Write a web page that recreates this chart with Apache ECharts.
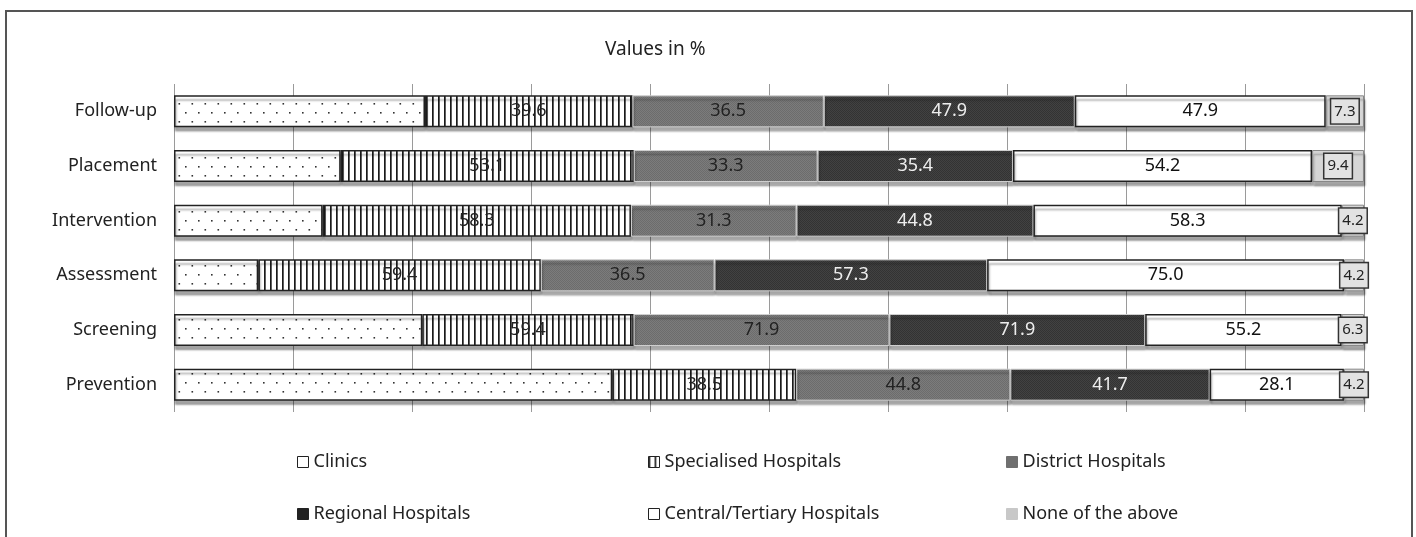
<!DOCTYPE html>
<html>
<head>
<meta charset="utf-8">
<title>Values in %</title>
<script src="https://cdn.jsdelivr.net/npm/echarts@6/dist/echarts.min.js"></script>
<style>
  html, body { margin: 0; padding: 0; background: #fff; }
  #main { width: 1416px; height: 537px; }
</style>
</head>
<body>
<div id="main"></div>
<script>
// 分类 (top to bottom as in the picture)
var categories = ['Follow-up', 'Placement', 'Intervention', 'Assessment', 'Screening', 'Prevention'];

// series values (%), clinics are not labelled in the picture ->
var clinics     = [47.9, 30.2, 28.1, 17.7, 69.8, 91.7];
var specialised = [39.6, 53.1, 58.3, 59.4, 59.4, 38.5];
var district    = [36.5, 33.3, 31.3, 36.5, 71.9, 44.8];
var regional    = [47.9, 35.4, 44.8, 57.3, 71.9, 41.7];
var central     = [47.9, 54.2, 58.3, 75.0, 55.2, 28.1];
var noneAbove   = [7.3, 9.4, 4.2, 4.2, 6.3, 4.2];

var seriesNames = ['Clinics', 'Specialised Hospitals', 'District Hospitals',
                   'Regional Hospitals', 'Central/Tertiary Hospitals', 'None of the above'];
var seriesValues = [clinics, specialised, district, regional, central, noneAbove];

var FONT = '"Noto Sans", "Open Sans", sans-serif';

// row totals -> 100% stacked
var totals = categories.map(function (c, i) {
	var s = 0;
	seriesValues.forEach(function (arr) { s += arr[i]; });
	return s;
});

function toShare(arr) {
	return arr.map(function (v, i) {
		return { value: v / totals[i] * 100, raw: v };
	});
}

// 点状填充
function dotPattern() {
	var c = document.createElement('canvas');
	c.width = 13; c.height = 18;
	var ctx = c.getContext('2d');
	ctx.fillStyle = '#fff';
	ctx.fillRect(0, 0, 13, 18);
	ctx.fillStyle = '#333';
	ctx.fillRect(3, 4, 1.6, 1.6);
	ctx.fillRect(9.5, 13, 1.6, 1.6);
	return c;
}

// 竖线填充
function stripePattern() {
	var c = document.createElement('canvas');
	c.width = 6; c.height = 6;
	var ctx = c.getContext('2d');
	ctx.fillStyle = '#fff';
	ctx.fillRect(0, 0, 6, 6);
	ctx.fillStyle = '#1a1a1a';
	ctx.fillRect(0, 0, 1.7, 6);
	return c;
}

// 颗粒灰色 (2x2 checker, imitates the halftone)
function grainPattern(a, b) {
	var c = document.createElement('canvas');
	c.width = 2; c.height = 2;
	var ctx = c.getContext('2d');
	ctx.fillStyle = a; ctx.fillRect(0, 0, 2, 2);
	ctx.fillStyle = b; ctx.fillRect(0, 0, 1, 1); ctx.fillRect(1, 1, 1, 1);
	return c;
}

var dots = { image: dotPattern(), repeat: 'repeat' };
var stripes = { image: stripePattern(), repeat: 'repeat' };
var districtFill = { image: grainPattern('#7c7c7c', '#6c6c6c'), repeat: 'repeat' };
var regionalFill = { image: grainPattern('#424242', '#333333'), repeat: 'repeat' };

var shadow = {
	shadowColor: 'rgba(0,0,0,0.35)',
	shadowBlur: 2,
	shadowOffsetY: 4,
	shadowOffsetX: 1
};

function itemStyle(color, border, bw) {
	var s = { color: color, borderColor: border, borderWidth: bw };
	for (var k in shadow) s[k] = shadow[k];
	return s;
}

function plainLabel(color) {
	return {
		show: true,
		position: 'inside',
		fontFamily: FONT,
		fontSize: 18,
		color: color,
		formatter: function (p) { return p.data.raw.toFixed(1); }
	};
}

var styles = [
	itemStyle(dots, '#222', 1.5),
	itemStyle(stripes, '#222', 1.5),
	itemStyle(districtFill, '#cfcfcf', 1),
	itemStyle(regionalFill, '#cfcfcf', 1),
	itemStyle('#ffffff', '#222', 1.5),
	itemStyle('#d6d6d6', '#888', 1)
];

var labels = [
	{ show: false },
	plainLabel('#222'),
	plainLabel('#222'),
	plainLabel('#eeeeee'),
	plainLabel('#111'),
	{
		show: true,
		position: 'inside',
		fontFamily: FONT,
		fontSize: 15,
		color: '#222',
		backgroundColor: '#e2e2e2',
		borderColor: '#333',
		borderWidth: 1.5,
		padding: [5, 3, 4, 3],
		formatter: function (p) { return p.data.raw.toFixed(1); }
	}
];

var series = seriesNames.map(function (name, i) {
	return {
		name: name,
		type: 'bar',
		stack: 'total',
		barWidth: 32,
		data: toShare(seriesValues[i]),
		itemStyle: styles[i],
		label: labels[i],
		emphasis: { disabled: true },
		animation: false
	};
});

// 图例图标
var legendIcon = {
	'Clinics': { color: '#fff' },
	'Specialised Hospitals': { color: stripes },
	'District Hospitals': { color: '#6f6f6f', borderColor: '#6f6f6f' },
	'Regional Hospitals': { color: '#222', borderColor: '#222' },
	'Central/Tertiary Hospitals': { color: '#fff' },
	'None of the above': { color: '#c8c8c8', borderColor: '#c8c8c8' }
};

function legendCol(names, left) {
	return {
		orient: 'vertical',
		left: left,
		top: 451,
		padding: 0,
		itemGap: 30,
		itemWidth: 11,
		itemHeight: 11,
		icon: 'rect',
		selectedMode: false,
		textStyle: { fontFamily: FONT, fontSize: 18, color: '#222', lineHeight: 22 },
		itemStyle: { borderColor: '#222', borderWidth: 1, shadowBlur: 0, shadowOffsetX: 0, shadowOffsetY: 0 },
		data: names.map(function (n) {
			return { name: n, itemStyle: legendIcon[n] };
		})
	};
}

var myChart = echarts.init(document.getElementById('main'), null, { renderer: 'canvas' });

var option = {
	backgroundColor: '#fff',
	animation: false,
	title: {
		text: 'Values in %',
		left: 600,
		top: 35,
		textStyle: { fontFamily: FONT, fontSize: 19, fontWeight: 'normal', color: '#222' }
	},
	graphic: [{
		type: 'rect',
		shape: { x: 6, y: 11, width: 1406, height: 545 },
		style: { fill: 'none', stroke: '#555', lineWidth: 2 },
		silent: true
	}],
	legend: [
		legendCol(['Clinics', 'Regional Hospitals'], 297),
		legendCol(['Specialised Hospitals', 'Central/Tertiary Hospitals'], 648),
		legendCol(['District Hospitals', 'None of the above'], 1006)
	],
	grid: { left: 174, right: 52, top: 84, height: 328 },
	xAxis: {
		type: 'value',
		min: 0,
		max: 100,
		interval: 10,
		axisLabel: { show: false },
		axisLine: { show: false },
		axisTick: { show: false },
		splitLine: { show: true, lineStyle: { color: '#9a9a9a', width: 1 } }
	},
	yAxis: {
		type: 'category',
		data: categories,
		inverse: true,
		axisLine: { show: false },
		axisTick: { show: false },
		axisLabel: { fontFamily: FONT, fontSize: 18, color: '#222', margin: 17 }
	},
	series: series
};

myChart.setOption(option);
</script>
</body>
</html>
